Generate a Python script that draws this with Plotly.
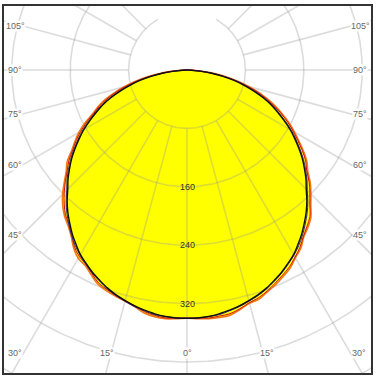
import numpy as np
import plotly.graph_objects as go

# ---------------- data ----------------
angles = [-90, -87.5, -85, -82.5, -80, -77.5, -75, -72.5, -70, -67.5, -65, -62.5, -60, -57.5,
          -55, -52.5, -50, -47.5, -45, -42.5, -40, -37.5, -35, -32.5, -30, -27.5, -25, -22.5,
          -20, -17.5, -15, -12.5, -10, -7.5, -5, -2.5, 0, 2.5, 5, 7.5, 10, 12.5, 15, 17.5, 20,
          22.5, 25, 27.5, 30, 32.5, 35, 37.5, 40, 42.5, 45, 47.5, 50, 52.5, 55, 57.5, 60, 62.5,
          65, 67.5, 70, 72.5, 75, 77.5, 80, 82.5, 85, 87.5, 90]

orange = [0, 8, 22, 39, 56, 73, 89, 105, 120, 132, 143, 158, 171, 182, 193, 207, 216, 228,
          241, 252, 261, 268, 277, 289, 298, 302, 310, 318, 322, 325, 328, 332, 338, 341, 342,
          341, 340, 341, 342, 342, 341, 336, 331, 329, 323, 318, 312, 306, 297, 290, 279, 272,
          264, 251, 240, 229, 216, 207, 195, 182, 170, 158, 145, 132, 118, 104, 88, 72, 55, 38,
          21, 8, 0]

red = [0, 7, 20, 37, 54, 71, 87, 103, 117, 130, 141, 155, 168, 180, 191, 204, 214, 226,
       238, 249, 259, 266, 275, 287, 295, 300, 308, 316, 320, 324, 327, 331, 336, 339, 341,
       340, 340, 340, 341, 340, 339, 335, 330, 327, 322, 316, 310, 304, 296, 288, 278, 270,
       262, 249, 238, 227, 214, 205, 193, 180, 168, 156, 143, 130, 116, 102, 86, 70, 53, 36,
       20, 7, 0]

black = [0, 6, 18, 34, 50, 66, 81, 96, 111, 125, 137, 150, 163, 175, 187, 199, 210, 221,
         231, 243, 254, 264, 274, 283, 292, 299, 306, 312, 318, 323, 327, 331, 334, 337, 339,
         340, 340, 340, 339, 337, 334, 331, 327, 323, 318, 312, 306, 299, 292, 283, 274, 264,
         254, 243, 231, 221, 210, 199, 187, 175, 163, 150, 137, 125, 111, 96, 81, 66, 50, 34,
         18, 6, 0]

blue = [0, 7, 19, 35, 52, 68, 83, 98, 113, 127, 139, 152, 165, 177, 189, 201, 212, 223,
        233, 245, 256, 266, 276, 285, 293, 300, 307, 313, 319, 324, 328, 332, 335, 338, 339,
        340, 340, 340, 339, 338, 335, 332, 328, 324, 319, 313, 307, 300, 293, 285, 276, 266,
        256, 245, 233, 223, 212, 201, 189, 177, 165, 152, 139, 127, 113, 98, 83, 68, 52, 35,
        19, 7, 0]

ring_values = [80, 160, 240, 320, 400, 480]
ring_labels = [160, 240, 320]
spoke_angles = [0, 15, 30, 45, 60, 75, 90, 105, 120, 135]
side_labels = [105, 90, 75, 60, 45]
bottom_labels = [30, 15, 0]

# ---------------- geometry helpers ----------------
S = 0.73  # px per unit
PX_L, PX_R, PX_T, PX_B = 4, 371, 6, 373
CX, CY = 187, 70
xr = [-(CX - PX_L) / S, (PX_R - CX) / S]
yr = [-(PX_B - CY) / S, (CY - PX_T) / S]


def to_xy(theta_deg, r):
    t = np.radians(np.asarray(theta_deg, dtype=float))
    r = np.asarray(r, dtype=float)
    return r * np.sin(t), -r * np.cos(t)


fig = go.Figure()

# yellow fill
fx, fy = to_xy(angles, orange)
fig.add_trace(go.Scatter(x=fx, y=fy, mode="lines", fill="toself", fillcolor="#ffff00",
                         line=dict(width=0, color="#ffff00"), line_shape="spline",
                         hoverinfo="skip", showlegend=False))

grid_col = "rgba(150,150,150,0.33)"
# rings
for R in ring_values:
    a = np.linspace(-150, 150, 301)
    gx, gy = to_xy(a, np.full_like(a, R))
    fig.add_trace(go.Scatter(x=gx, y=gy, mode="lines", line=dict(color=grid_col, width=1.6),
                             hoverinfo="skip", showlegend=False))
# spokes
for A in spoke_angles:
    for sgn in ([1] if A == 0 else [-1, 1]):
        sx, sy = to_xy([sgn * A, sgn * A], [80, 800])
        fig.add_trace(go.Scatter(x=sx, y=sy, mode="lines", line=dict(color=grid_col, width=1.6),
                                 hoverinfo="skip", showlegend=False))

# curves
for vals, col, w in [(orange, "#f07818", 1.6), (red, "#d81010", 1.0),
                     (blue, "#3a2a9a", 1.0), (black, "#101010", 1.4)]:
    cx_, cy_ = to_xy(angles, vals)
    fig.add_trace(go.Scatter(x=cx_, y=cy_, mode="lines", line=dict(color=col, width=w),
                             line_shape="spline", hoverinfo="skip", showlegend=False))

annotations = []
for v in ring_labels:
    annotations.append(dict(x=0, y=-v, text=str(v), showarrow=False,
                            font=dict(family="Liberation Sans, Arial", size=9, color="#333333"),
                            xanchor="center", yanchor="middle"))

lab_font = dict(family="Liberation Sans, Arial", size=9, color="#666666")
xl = (15 - CX) / S
xrgt = (360 - CX) / S
dx_eff = 165 / S
for A in side_labels:
    t = np.radians(A)
    Y = -dx_eff * np.cos(t) / np.sin(t)
    for X in (xl, xrgt):
        annotations.append(dict(x=X, y=Y, text=f"{A}°", showarrow=False, font=lab_font,
                                bgcolor="white", borderpad=0, xanchor="center", yanchor="middle"))
yb = -(353 - CY) / S
dy_eff = 298 / S
for A in bottom_labels:
    for sgn in ([1] if A == 0 else [-1, 1]):
        X = sgn * dy_eff * np.tan(np.radians(A))
        annotations.append(dict(x=X, y=yb, text=f"{A}°", showarrow=False, font=lab_font,
                                bgcolor="white", borderpad=0, xanchor="center", yanchor="middle"))

axis_common = dict(showgrid=False, zeroline=False, showticklabels=False, ticks="",
                   showline=True, mirror=True, linecolor="#333333", linewidth=2, fixedrange=True)
fig.update_layout(
    width=377, height=380,
    margin=dict(l=PX_L, r=377 - PX_R, t=PX_T, b=380 - PX_B),
    paper_bgcolor="white", plot_bgcolor="white",
    xaxis=dict(range=xr, **axis_common),
    yaxis=dict(range=yr, **axis_common),
    annotations=annotations,
    showlegend=False,
)
fig.write_html("out.html")
